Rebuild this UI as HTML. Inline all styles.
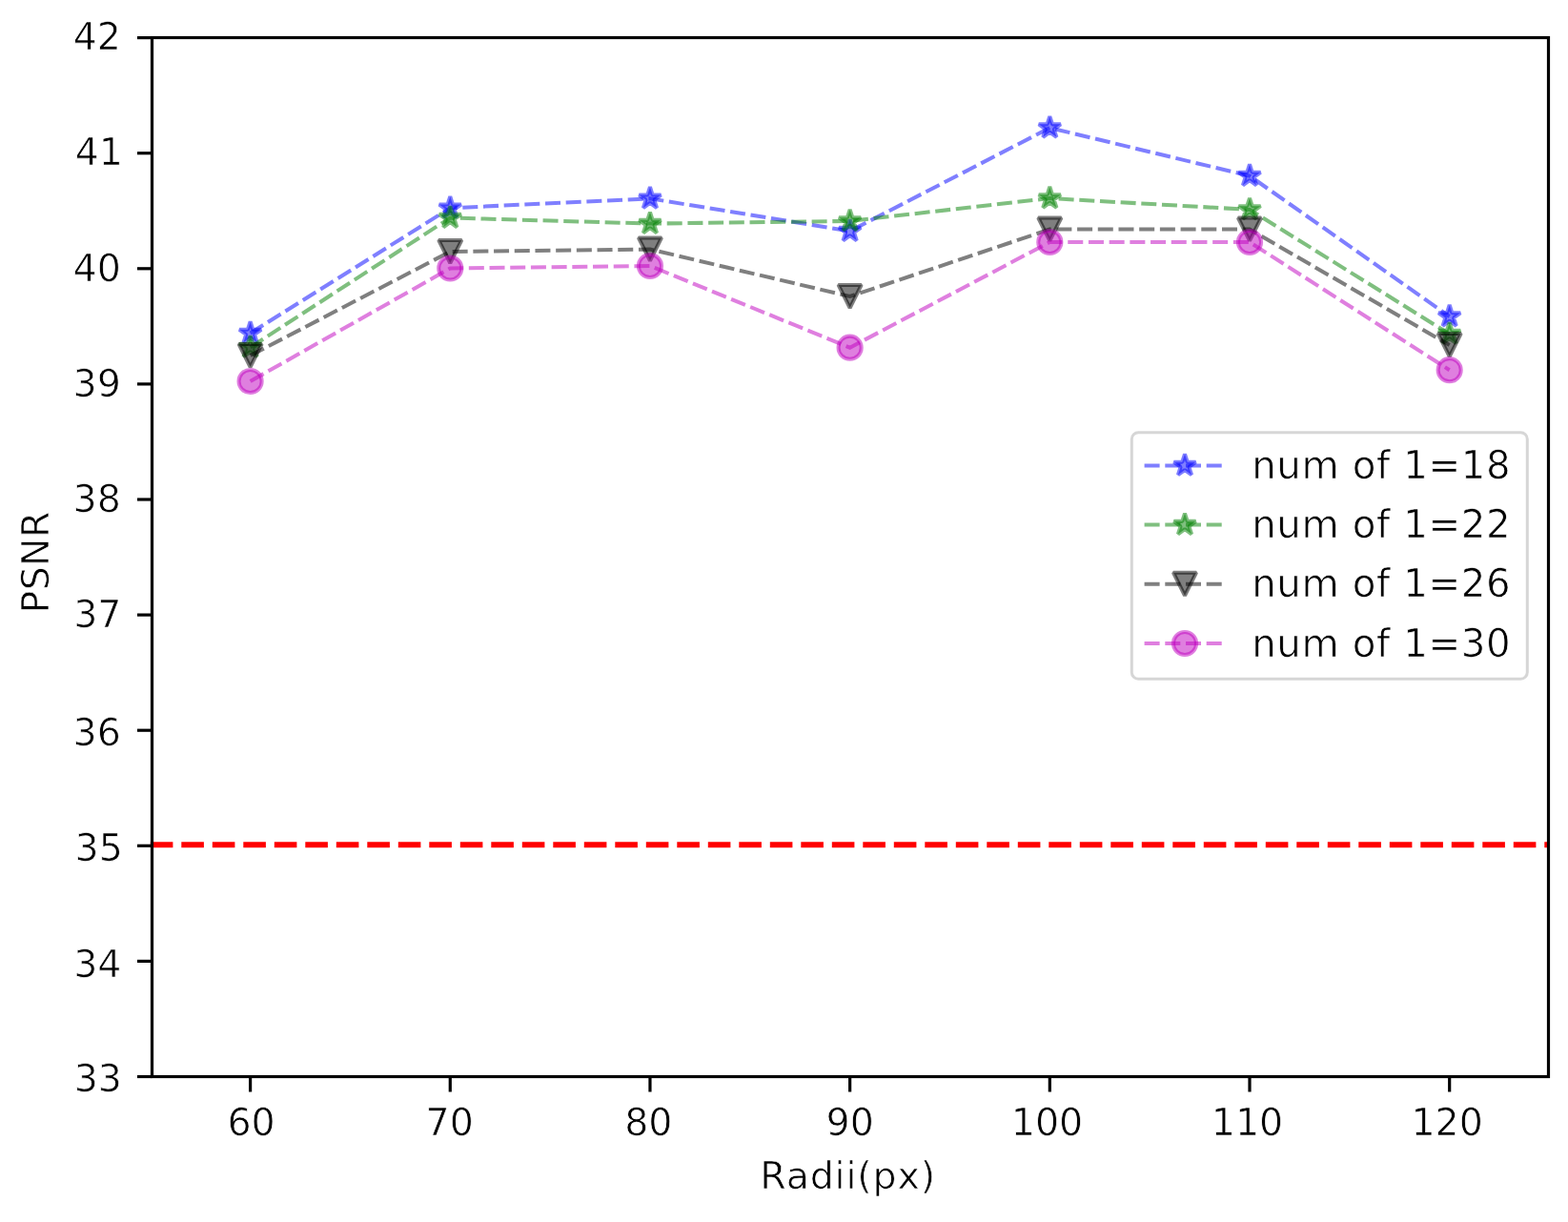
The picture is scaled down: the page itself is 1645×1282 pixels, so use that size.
<!DOCTYPE html>
<html><head><meta charset="utf-8"><title>PSNR vs Radii</title>
<style>
html,body{margin:0;padding:0;background:#fff;}
body{width:1645px;height:1282px;overflow:hidden;}
svg{display:block;}
svg text{font-family:"DejaVu Sans","Liberation Sans",sans-serif;font-size:40.3px;fill:#000;stroke:#fff;stroke-width:0.7px;}
svg text.tk{font-size:39.5px;}
</style></head><body>
<svg width="1645" height="1282" viewBox="0 0 1645 1282">
<rect x="0" y="0" width="1645" height="1282" fill="#ffffff"/>
<line x1="157.8" y1="886.3" x2="1625.5" y2="886.3" stroke="#ff0000" stroke-width="6.04" stroke-dasharray="23.6 8.9"/>
<polyline points="262.60,349.50 472.28,218.30 681.96,208.30 891.64,242.50 1101.32,134.10 1311.00,184.50 1520.68,332.00" fill="none" stroke="#0000ff" stroke-opacity="0.5" stroke-width="4.03" stroke-dasharray="16 5.7"/>
<path d="M262.60,337.42 L259.89,345.77 L251.11,345.77 L258.21,350.93 L255.50,359.27 L262.60,354.11 L269.70,359.27 L266.99,350.93 L274.09,345.77 L265.31,345.77 Z" fill="#0000ff" fill-opacity="0.5" stroke="#0000ff" stroke-opacity="0.5" stroke-width="4.03" stroke-linejoin="bevel"/>
<path d="M472.28,206.22 L469.57,214.57 L460.79,214.57 L467.89,219.73 L465.18,228.07 L472.28,222.91 L479.38,228.07 L476.67,219.73 L483.77,214.57 L474.99,214.57 Z" fill="#0000ff" fill-opacity="0.5" stroke="#0000ff" stroke-opacity="0.5" stroke-width="4.03" stroke-linejoin="bevel"/>
<path d="M681.96,196.22 L679.25,204.57 L670.47,204.57 L677.57,209.73 L674.86,218.07 L681.96,212.91 L689.06,218.07 L686.35,209.73 L693.45,204.57 L684.67,204.57 Z" fill="#0000ff" fill-opacity="0.5" stroke="#0000ff" stroke-opacity="0.5" stroke-width="4.03" stroke-linejoin="bevel"/>
<path d="M891.64,230.42 L888.93,238.77 L880.15,238.77 L887.25,243.93 L884.54,252.27 L891.64,247.11 L898.74,252.27 L896.03,243.93 L903.13,238.77 L894.35,238.77 Z" fill="#0000ff" fill-opacity="0.5" stroke="#0000ff" stroke-opacity="0.5" stroke-width="4.03" stroke-linejoin="bevel"/>
<path d="M1101.32,122.02 L1098.61,130.37 L1089.83,130.37 L1096.93,135.53 L1094.22,143.87 L1101.32,138.71 L1108.42,143.87 L1105.71,135.53 L1112.81,130.37 L1104.03,130.37 Z" fill="#0000ff" fill-opacity="0.5" stroke="#0000ff" stroke-opacity="0.5" stroke-width="4.03" stroke-linejoin="bevel"/>
<path d="M1311.00,172.42 L1308.29,180.77 L1299.51,180.77 L1306.61,185.93 L1303.90,194.27 L1311.00,189.11 L1318.10,194.27 L1315.39,185.93 L1322.49,180.77 L1313.71,180.77 Z" fill="#0000ff" fill-opacity="0.5" stroke="#0000ff" stroke-opacity="0.5" stroke-width="4.03" stroke-linejoin="bevel"/>
<path d="M1520.68,319.92 L1517.97,328.27 L1509.19,328.27 L1516.29,333.43 L1513.58,341.77 L1520.68,336.61 L1527.78,341.77 L1525.07,333.43 L1532.17,328.27 L1523.39,328.27 Z" fill="#0000ff" fill-opacity="0.5" stroke="#0000ff" stroke-opacity="0.5" stroke-width="4.03" stroke-linejoin="bevel"/>
<polyline points="262.60,364.40 472.28,228.50 681.96,234.60 891.64,231.90 1101.32,208.00 1311.00,219.90 1520.68,350.40" fill="none" stroke="#008000" stroke-opacity="0.5" stroke-width="4.03" stroke-dasharray="16 5.7"/>
<path d="M262.60,352.32 L259.89,360.67 L251.11,360.67 L258.21,365.83 L255.50,374.17 L262.60,369.01 L269.70,374.17 L266.99,365.83 L274.09,360.67 L265.31,360.67 Z" fill="#008000" fill-opacity="0.5" stroke="#008000" stroke-opacity="0.5" stroke-width="4.03" stroke-linejoin="bevel"/>
<path d="M472.28,216.42 L469.57,224.77 L460.79,224.77 L467.89,229.93 L465.18,238.27 L472.28,233.11 L479.38,238.27 L476.67,229.93 L483.77,224.77 L474.99,224.77 Z" fill="#008000" fill-opacity="0.5" stroke="#008000" stroke-opacity="0.5" stroke-width="4.03" stroke-linejoin="bevel"/>
<path d="M681.96,222.52 L679.25,230.87 L670.47,230.87 L677.57,236.03 L674.86,244.37 L681.96,239.21 L689.06,244.37 L686.35,236.03 L693.45,230.87 L684.67,230.87 Z" fill="#008000" fill-opacity="0.5" stroke="#008000" stroke-opacity="0.5" stroke-width="4.03" stroke-linejoin="bevel"/>
<path d="M891.64,219.82 L888.93,228.17 L880.15,228.17 L887.25,233.33 L884.54,241.67 L891.64,236.51 L898.74,241.67 L896.03,233.33 L903.13,228.17 L894.35,228.17 Z" fill="#008000" fill-opacity="0.5" stroke="#008000" stroke-opacity="0.5" stroke-width="4.03" stroke-linejoin="bevel"/>
<path d="M1101.32,195.92 L1098.61,204.27 L1089.83,204.27 L1096.93,209.43 L1094.22,217.77 L1101.32,212.61 L1108.42,217.77 L1105.71,209.43 L1112.81,204.27 L1104.03,204.27 Z" fill="#008000" fill-opacity="0.5" stroke="#008000" stroke-opacity="0.5" stroke-width="4.03" stroke-linejoin="bevel"/>
<path d="M1311.00,207.82 L1308.29,216.17 L1299.51,216.17 L1306.61,221.33 L1303.90,229.67 L1311.00,224.51 L1318.10,229.67 L1315.39,221.33 L1322.49,216.17 L1313.71,216.17 Z" fill="#008000" fill-opacity="0.5" stroke="#008000" stroke-opacity="0.5" stroke-width="4.03" stroke-linejoin="bevel"/>
<path d="M1520.68,338.32 L1517.97,346.67 L1509.19,346.67 L1516.29,351.83 L1513.58,360.17 L1520.68,355.01 L1527.78,360.17 L1525.07,351.83 L1532.17,346.67 L1523.39,346.67 Z" fill="#008000" fill-opacity="0.5" stroke="#008000" stroke-opacity="0.5" stroke-width="4.03" stroke-linejoin="bevel"/>
<polyline points="262.60,373.00 472.28,264.00 681.96,261.50 891.64,311.00 1101.32,240.60 1311.00,240.60 1520.68,362.00" fill="none" stroke="#000000" stroke-opacity="0.5" stroke-width="4.03" stroke-dasharray="16 5.7"/>
<path d="M262.60,385.08 L250.52,360.92 L274.68,360.92 Z" fill="#000000" fill-opacity="0.5" stroke="#000000" stroke-opacity="0.5" stroke-width="4.03" stroke-linejoin="bevel"/>
<path d="M472.28,276.08 L460.20,251.92 L484.36,251.92 Z" fill="#000000" fill-opacity="0.5" stroke="#000000" stroke-opacity="0.5" stroke-width="4.03" stroke-linejoin="bevel"/>
<path d="M681.96,273.58 L669.88,249.42 L694.04,249.42 Z" fill="#000000" fill-opacity="0.5" stroke="#000000" stroke-opacity="0.5" stroke-width="4.03" stroke-linejoin="bevel"/>
<path d="M891.64,323.08 L879.56,298.92 L903.72,298.92 Z" fill="#000000" fill-opacity="0.5" stroke="#000000" stroke-opacity="0.5" stroke-width="4.03" stroke-linejoin="bevel"/>
<path d="M1101.32,252.68 L1089.24,228.52 L1113.40,228.52 Z" fill="#000000" fill-opacity="0.5" stroke="#000000" stroke-opacity="0.5" stroke-width="4.03" stroke-linejoin="bevel"/>
<path d="M1311.00,252.68 L1298.92,228.52 L1323.08,228.52 Z" fill="#000000" fill-opacity="0.5" stroke="#000000" stroke-opacity="0.5" stroke-width="4.03" stroke-linejoin="bevel"/>
<path d="M1520.68,374.08 L1508.60,349.92 L1532.76,349.92 Z" fill="#000000" fill-opacity="0.5" stroke="#000000" stroke-opacity="0.5" stroke-width="4.03" stroke-linejoin="bevel"/>
<polyline points="262.60,400.00 472.28,281.50 681.96,279.00 891.64,364.70 1101.32,254.00 1311.00,254.00 1520.68,388.20" fill="none" stroke="#bf00bf" stroke-opacity="0.5" stroke-width="4.03" stroke-dasharray="16 5.7"/>
<circle cx="262.60" cy="400.00" r="12.08" fill="#bf00bf" fill-opacity="0.5" stroke="#bf00bf" stroke-opacity="0.5" stroke-width="4.03"/>
<circle cx="472.28" cy="281.50" r="12.08" fill="#bf00bf" fill-opacity="0.5" stroke="#bf00bf" stroke-opacity="0.5" stroke-width="4.03"/>
<circle cx="681.96" cy="279.00" r="12.08" fill="#bf00bf" fill-opacity="0.5" stroke="#bf00bf" stroke-opacity="0.5" stroke-width="4.03"/>
<circle cx="891.64" cy="364.70" r="12.08" fill="#bf00bf" fill-opacity="0.5" stroke="#bf00bf" stroke-opacity="0.5" stroke-width="4.03"/>
<circle cx="1101.32" cy="254.00" r="12.08" fill="#bf00bf" fill-opacity="0.5" stroke="#bf00bf" stroke-opacity="0.5" stroke-width="4.03"/>
<circle cx="1311.00" cy="254.00" r="12.08" fill="#bf00bf" fill-opacity="0.5" stroke="#bf00bf" stroke-opacity="0.5" stroke-width="4.03"/>
<circle cx="1520.68" cy="388.20" r="12.08" fill="#bf00bf" fill-opacity="0.5" stroke="#bf00bf" stroke-opacity="0.5" stroke-width="4.03"/>
<rect x="159.5" y="39.5" width="1465.0" height="1090.0" fill="none" stroke="#000" stroke-width="3.2" stroke-linejoin="miter"/>
<line x1="144" y1="1129.50" x2="159.5" y2="1129.50" stroke="#000" stroke-width="3.2"/>
<text class="tk" x="128.00" y="1145.30" text-anchor="end">33</text>
<line x1="144" y1="1008.40" x2="159.5" y2="1008.40" stroke="#000" stroke-width="3.2"/>
<text class="tk" x="127.40" y="1024.80" text-anchor="end">34</text>
<line x1="144" y1="887.30" x2="159.5" y2="887.30" stroke="#000" stroke-width="3.2"/>
<text class="tk" x="128.80" y="903.10" text-anchor="end">35</text>
<line x1="144" y1="766.20" x2="159.5" y2="766.20" stroke="#000" stroke-width="3.2"/>
<text class="tk" x="126.80" y="782.40" text-anchor="end">36</text>
<line x1="144" y1="645.10" x2="159.5" y2="645.10" stroke="#000" stroke-width="3.2"/>
<text class="tk" x="127.40" y="658.10" text-anchor="end">37</text>
<line x1="144" y1="524.00" x2="159.5" y2="524.00" stroke="#000" stroke-width="3.2"/>
<text class="tk" x="126.80" y="537.00" text-anchor="end">38</text>
<line x1="144" y1="402.90" x2="159.5" y2="402.90" stroke="#000" stroke-width="3.2"/>
<text class="tk" x="126.80" y="416.10" text-anchor="end">39</text>
<line x1="144" y1="281.80" x2="159.5" y2="281.80" stroke="#000" stroke-width="3.2"/>
<text class="tk" x="126.80" y="294.80" text-anchor="end">40</text>
<line x1="144" y1="160.70" x2="159.5" y2="160.70" stroke="#000" stroke-width="3.2"/>
<text class="tk" x="129.00" y="173.20" text-anchor="end">41</text>
<line x1="144" y1="39.60" x2="159.5" y2="39.60" stroke="#000" stroke-width="3.2"/>
<text class="tk" x="127.00" y="52.20" text-anchor="end">42</text>
<line x1="262.60" y1="1129.5" x2="262.60" y2="1145.5" stroke="#000" stroke-width="3.2"/>
<text class="tk" x="263.60" y="1190.60" text-anchor="middle">60</text>
<line x1="472.28" y1="1129.5" x2="472.28" y2="1145.5" stroke="#000" stroke-width="3.2"/>
<text class="tk" x="471.68" y="1190.60" text-anchor="middle">70</text>
<line x1="681.96" y1="1129.5" x2="681.96" y2="1145.5" stroke="#000" stroke-width="3.2"/>
<text class="tk" x="680.26" y="1190.60" text-anchor="middle">80</text>
<line x1="891.64" y1="1129.5" x2="891.64" y2="1145.5" stroke="#000" stroke-width="3.2"/>
<text class="tk" x="891.64" y="1190.60" text-anchor="middle">90</text>
<line x1="1101.32" y1="1129.5" x2="1101.32" y2="1145.5" stroke="#000" stroke-width="3.2"/>
<text class="tk" x="1098.52" y="1190.60" text-anchor="middle">100</text>
<line x1="1311.00" y1="1129.5" x2="1311.00" y2="1145.5" stroke="#000" stroke-width="3.2"/>
<text class="tk" x="1308.50" y="1190.60" text-anchor="middle">110</text>
<line x1="1520.68" y1="1129.5" x2="1520.68" y2="1145.5" stroke="#000" stroke-width="3.2"/>
<text class="tk" x="1518.08" y="1190.60" text-anchor="middle">120</text>
<text class="tk" x="889.60" y="1246.80" text-anchor="middle" letter-spacing="0.85">Radii(px)</text>
<text class="tk" transform="translate(51.30,589.90) rotate(-90)" x="0" y="0" text-anchor="middle" letter-spacing="0.3">PSNR</text>
<rect x="1187.3" y="453.7" width="415.0" height="258.59999999999997" rx="7" ry="7" fill="#ffffff" fill-opacity="0.8" stroke="#cccccc" stroke-opacity="0.8" stroke-width="3"/>
<line x1="1200.6" y1="488.4" x2="1283" y2="488.4" stroke="#0000ff" stroke-opacity="0.5" stroke-width="4.03" stroke-dasharray="16 5.7"/>
<path d="M1243.00,476.32 L1240.29,484.67 L1231.51,484.67 L1238.61,489.83 L1235.90,498.17 L1243.00,493.01 L1250.10,498.17 L1247.39,489.83 L1254.49,484.67 L1245.71,484.67 Z" fill="#0000ff" fill-opacity="0.5" stroke="#0000ff" stroke-opacity="0.5" stroke-width="4.03" stroke-linejoin="bevel"/>
<text x="1313.2" y="501.90" letter-spacing="0.6">num of 1=18</text>
<line x1="1200.6" y1="550.6" x2="1283" y2="550.6" stroke="#008000" stroke-opacity="0.5" stroke-width="4.03" stroke-dasharray="16 5.7"/>
<path d="M1243.00,538.52 L1240.29,546.87 L1231.51,546.87 L1238.61,552.03 L1235.90,560.37 L1243.00,555.21 L1250.10,560.37 L1247.39,552.03 L1254.49,546.87 L1245.71,546.87 Z" fill="#008000" fill-opacity="0.5" stroke="#008000" stroke-opacity="0.5" stroke-width="4.03" stroke-linejoin="bevel"/>
<text x="1313.2" y="564.10" letter-spacing="0.6">num of 1=22</text>
<line x1="1200.6" y1="612.8" x2="1283" y2="612.8" stroke="#000000" stroke-opacity="0.5" stroke-width="4.03" stroke-dasharray="16 5.7"/>
<path d="M1243.00,624.88 L1230.92,600.72 L1255.08,600.72 Z" fill="#000000" fill-opacity="0.5" stroke="#000000" stroke-opacity="0.5" stroke-width="4.03" stroke-linejoin="bevel"/>
<text x="1313.2" y="626.30" letter-spacing="0.6">num of 1=26</text>
<line x1="1200.6" y1="675.0" x2="1283" y2="675.0" stroke="#bf00bf" stroke-opacity="0.5" stroke-width="4.03" stroke-dasharray="16 5.7"/>
<circle cx="1243.00" cy="675.00" r="12.08" fill="#bf00bf" fill-opacity="0.5" stroke="#bf00bf" stroke-opacity="0.5" stroke-width="4.03"/>
<text x="1313.2" y="688.50" letter-spacing="0.6">num of 1=30</text>
</svg>
</body></html>
